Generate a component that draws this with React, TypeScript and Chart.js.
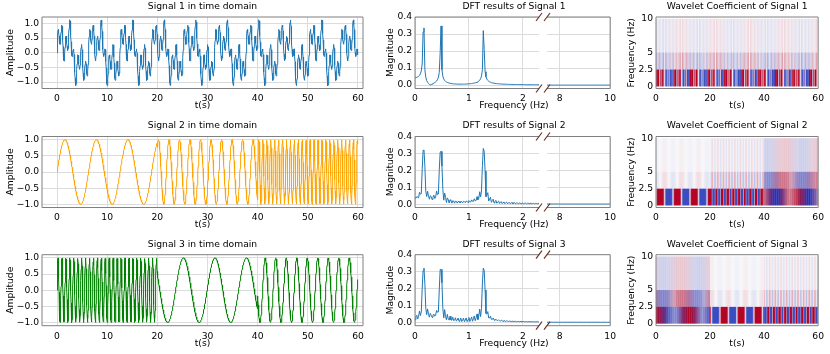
import React, { useEffect, useMemo, useRef } from "react";
import { Chart, registerables } from "chart.js";

Chart.register(...registerables);

// ---------------- data ----------------
const SAMPLE_RATE = 20; // Hz (wavelet frequency axis ends at 10 Hz = Nyquist)
const DURATION = 60; // s
// Signal 1: three superposed tones, spectral peaks at 0.16, 0.48 and 1.27 Hz
const SIGNAL1_OMEGA = [1, 3, 8]; // rad/s
const SIGNAL1_AMP = [0.51, 0.43, 0.42];
// Signals 2 and 3: one tone per 20 s segment
const SEGMENT_LENGTH = 20; // s
const SIGNAL2_OMEGA = [1, 3, 8];
const SIGNAL2_PHASE = [0, 3.7, 0];
const SIGNAL3_OMEGA = [8, 1, 3];
const SIGNAL3_PHASE = [0, 1.5, 2.7];

const SIGNAL_COLORS = ["#1f77b4", "#ffa500", "#008000"];
const DFT_COLOR = "#1f77b4";

const TIME_TITLES = ["Signal 1 in time domain", "Signal 2 in time domain", "Signal 3 in time domain"];
const DFT_TITLES = ["DFT results of Signal 1", "DFT results of Signal 2", "DFT results of Signal 3"];
const WAVELET_TITLES = ["Wavelet Coefficient of Signal 1", "Wavelet Coefficient of Signal 2", "Wavelet Coefficient of Signal 3"];

const TIME_X_RANGE = [-3, 61];
const TIME_X_TICKS = [0, 10, 20, 30, 40, 50, 60];
const TIME_Y_TICKS = [-1, -0.5, 0, 0.5, 1];
const TIME_Y_LABELS = ["\u22121.0", "\u22120.5", "0.0", "0.5", "1.0"];
const TIME_Y_LIMITS = [1.22, 1.1, 1.1];

const DFT_Y_RANGE = [-0.02, 0.4];
const DFT_Y_TICKS = [0, 0.1, 0.2, 0.3, 0.4];
const DFT_Y_LABELS = ["0.0", "0.1", "0.2", "0.3", "0.4"];
const DFT_LEFT_RANGE = [0, 2.3];
const DFT_RIGHT_RANGE = [7.5, 10];
const DFT_LEFT_TICKS = [0, 1, 2];
const DFT_RIGHT_TICKS = [8, 10];

const WAVELET_X_TICKS = [0, 20, 40, 60];
const WAVELET_Y_RANGE = [-0.3, 10.25];
const WAVELET_Y_TICKS = [0, 2.5, 5, 10];
const WAVELET_Y_LABELS = ["0", "2.5", "5", "10"];
const WAVELET_BANDS = [0, 2.5, 5, 10]; // Hz: approximation, detail 2, detail 1
const WAVELET_VMAX = 0.9;
const CMAP_NEG = [59, 76, 192];
const CMAP_MID = [248, 248, 250];
const CMAP_POS = [180, 4, 38];

// ---------------- styling ----------------
const FONT_FAMILY = "'DejaVu Sans', 'Liberation Sans', sans-serif";
const FONT_SIZE = 9.2;
const LH = FONT_SIZE * 1.2;
const TEXT_COLOR = "#000000";
const GRID_COLOR = "#dcdcdc";
const SPINE_COLOR = "#808080";
const BREAK_COLOR = "#6e3326";

const ROWS = [
  { T: 17, B: 88.5 },
  { T: 136.5, B: 207.5 },
  { T: 254.7, B: 325.7 },
];
const COL1 = { L: 42, R: 363, ylabelX: 10.7 };
const COL2 = { L: 415, LR: 539, RL: 547, R: 613, ylabelX: 390.7 };
const COL3 = { L: 656, R: 821, ylabelX: 631.7 };
const TITLE_OFFSET = 10.5; // title centre above plot top
const XLABEL_OFFSET = 17.5; // x-label centre below plot bottom

const fnt = (size: number) => ({ family: FONT_FAMILY, size, weight: "normal" as const, lineHeight: 1.2 });

// ---------------- computations ----------------
function synthesize() {
  const n = Math.round(SAMPLE_RATE * DURATION);
  const t: number[] = [];
  const s1: number[] = [];
  const s2: number[] = [];
  const s3: number[] = [];
  for (let i = 0; i < n; i++) {
    const ti = i / SAMPLE_RATE;
    t.push(ti);
    let v = 0;
    for (let k = 0; k < SIGNAL1_OMEGA.length; k++) v += SIGNAL1_AMP[k] * Math.sin(SIGNAL1_OMEGA[k] * ti);
    s1.push(v);
    const seg = Math.min(SIGNAL2_OMEGA.length - 1, Math.floor(ti / SEGMENT_LENGTH));
    s2.push(Math.sin(SIGNAL2_OMEGA[seg] * ti + SIGNAL2_PHASE[seg]));
    s3.push(Math.sin(SIGNAL3_OMEGA[seg] * ti + SIGNAL3_PHASE[seg]));
  }
  return { t, signals: [s1, s2, s3] };
}

function spectrum(x: number[]) {
  const n = x.length;
  const cosT = new Float64Array(n);
  const sinT = new Float64Array(n);
  for (let i = 0; i < n; i++) {
    cosT[i] = Math.cos((2 * Math.PI * i) / n);
    sinT[i] = Math.sin((2 * Math.PI * i) / n);
  }
  const out: { x: number; y: number }[] = [];
  for (let k = 0; k <= n / 2; k++) {
    let re = 0;
    let im = 0;
    let idx = 0;
    for (let i = 0; i < n; i++) {
      re += x[i] * cosT[idx];
      im -= x[i] * sinT[idx];
      idx += k;
      if (idx >= n) idx -= n;
    }
    out.push({ x: (k * SAMPLE_RATE) / n, y: (2 * Math.hypot(re, im)) / n });
  }
  return out;
}

function haarStep(x: number[]) {
  const a: number[] = [];
  const d: number[] = [];
  for (let i = 0; i + 1 < x.length; i += 2) {
    a.push((x[i] + x[i + 1]) / Math.SQRT2);
    d.push((x[i] - x[i + 1]) / Math.SQRT2);
  }
  return [a, d];
}

function colormap(v: number) {
  const t = Math.max(-1, Math.min(1, v));
  const end = t >= 0 ? CMAP_POS : CMAP_NEG;
  const a = Math.abs(t);
  return CMAP_MID.map((m, i) => m + (end[i] - m) * a);
}

type Grid = { w: number; h: number; rgb: Float64Array };

// coefficient grid: columns of 0.1 s, rows of 0.1 Hz (row 0 = top, 10 Hz)
function waveletGrid(x: number[]): Grid {
  const [a1, d1] = haarStep(x);
  const [a2, d2] = haarStep(a1);
  const w = d1.length;
  const h = 100;
  const fmax = WAVELET_BANDS[3];
  const rgb = new Float64Array(w * h * 3);
  for (let r = 0; r < h; r++) {
    const f = fmax * (1 - (r + 0.5) / h);
    for (let c = 0; c < w; c++) {
      const v = f < WAVELET_BANDS[1] ? a2[c >> 1] : f < WAVELET_BANDS[2] ? d2[c >> 1] : d1[c];
      const col = colormap(v / WAVELET_VMAX);
      const p = (r * w + c) * 3;
      rgb[p] = col[0];
      rgb[p + 1] = col[1];
      rgb[p + 2] = col[2];
    }
  }
  return { w, h, rgb };
}

// area weights of source cells (n cells spanning [a, b] px) for output pixels starting at p0
function weights(n: number, a: number, b: number, p0: number, count: number) {
  const s = (b - a) / n;
  const out: { i: number; w: number }[][] = [];
  for (let p = 0; p < count; p++) {
    const lo = p0 + p;
    const hi = lo + 1;
    const list: { i: number; w: number }[] = [];
    const iStart = Math.max(0, Math.floor((lo - a) / s));
    const iEnd = Math.min(n - 1, Math.floor((hi - a) / s));
    for (let i = iStart; i <= iEnd; i++) {
      const cl = a + i * s;
      const ch = cl + s;
      const ov = Math.min(hi, ch) - Math.max(lo, cl);
      if (ov > 0) list.push({ i, w: ov });
    }
    out.push(list);
  }
  return out;
}

// ---------------- plugins ----------------
function framePlugin(sides: string) {
  return {
    id: "frame",
    afterDatasetsDraw(chart: any) {
      const { left, right, top, bottom } = chart.chartArea;
      const ctx = chart.ctx;
      ctx.save();
      ctx.strokeStyle = SPINE_COLOR;
      ctx.lineWidth = 1;
      ctx.beginPath();
      if (sides.includes("l")) { ctx.moveTo(left, top); ctx.lineTo(left, bottom); }
      if (sides.includes("r")) { ctx.moveTo(right, top); ctx.lineTo(right, bottom); }
      if (sides.includes("t")) { ctx.moveTo(left, top); ctx.lineTo(right, top); }
      if (sides.includes("b")) { ctx.moveTo(left, bottom); ctx.lineTo(right, bottom); }
      ctx.stroke();
      ctx.restore();
    },
  };
}

function breakPlugin(side: "left" | "right") {
  return {
    id: "breaks",
    afterDraw(chart: any) {
      const a = chart.chartArea;
      const x = side === "right" ? a.right : a.left;
      const ctx = chart.ctx;
      ctx.save();
      ctx.strokeStyle = BREAK_COLOR;
      ctx.lineWidth = 1.2;
      ctx.beginPath();
      for (const y of [a.top, a.bottom]) {
        ctx.moveTo(x - 3, y + 4);
        ctx.lineTo(x + 3, y - 4);
      }
      ctx.stroke();
      ctx.restore();
    },
  };
}

// draws the coefficient grid into its data extent (0..60 s, 0..10 Hz), area-averaged per screen pixel
function heatPlugin(grid: Grid) {
  return {
    id: "heat",
    beforeDatasetsDraw(chart: any) {
      const xs = chart.scales.x;
      const ys = chart.scales.y;
      const x0 = xs.getPixelForValue(0);
      const x1 = xs.getPixelForValue(DURATION);
      const yTop = ys.getPixelForValue(WAVELET_BANDS[3]);
      const yBot = ys.getPixelForValue(WAVELET_BANDS[0]);
      const px0 = Math.floor(x0);
      const py0 = Math.floor(yTop);
      const W = Math.ceil(x1) - px0;
      const H = Math.ceil(yBot) - py0;
      const wx = weights(grid.w, x0, x1, px0, W);
      const wy = weights(grid.h, yTop, yBot, py0, H);
      const ctx = chart.ctx;
      const img = ctx.createImageData(W, H);
      for (let j = 0; j < H; j++) {
        for (let i = 0; i < W; i++) {
          let r = 0, g = 0, b = 0, cov = 0;
          for (const cy of wy[j]) {
            for (const cx of wx[i]) {
              const w = cy.w * cx.w;
              const p = (cy.i * grid.w + cx.i) * 3;
              r += grid.rgb[p] * w;
              g += grid.rgb[p + 1] * w;
              b += grid.rgb[p + 2] * w;
              cov += w;
            }
          }
          const rest = Math.max(0, 1 - cov) * 255;
          const q = (j * W + i) * 4;
          img.data[q] = Math.round(r + rest);
          img.data[q + 1] = Math.round(g + rest);
          img.data[q + 2] = Math.round(b + rest);
          img.data[q + 3] = 255;
        }
      }
      ctx.putImageData(img, px0, py0);
    },
  };
}

// ---------------- layout helpers ----------------
type Geom = { box: { left: number; top: number; width: number; height: number }; yW: number; xH: number; topH: number; padR: number };

function geom(L: number, T: number, R: number, B: number, axisW: number, padR: number): Geom {
  const left = Math.floor(L - axisW);
  const top = Math.floor(T - 17.5);
  const right = Math.ceil(R + padR);
  const bottom = Math.ceil(B + 25);
  return { box: { left, top, width: right - left, height: bottom - top }, yW: L - left, xH: bottom - B, topH: T - top, padR: right - R };
}

type ScaleSpec = {
  min: number;
  max: number;
  ticks: number[];
  labels?: string[];
  showLabels?: boolean;
  grid?: boolean;
  title?: string;
};

function scaleOpts(axis: "x" | "y", s: ScaleSpec, g: Geom, ylabelX: number) {
  const titleOpts = s.title
    ? axis === "x"
      ? { display: true, text: s.title, font: fnt(FONT_SIZE), color: TEXT_COLOR, padding: { top: 0, bottom: g.xH - XLABEL_OFFSET - LH / 2 } }
      : { display: true, text: s.title, font: fnt(FONT_SIZE), color: TEXT_COLOR, padding: { top: ylabelX - g.box.left - LH / 2, bottom: 0 } }
    : { display: false };
  return {
    type: "linear",
    min: s.min,
    max: s.max,
    afterBuildTicks: (sc: any) => {
      sc.ticks = s.ticks.map((v) => ({ value: v }));
    },
    afterFit: (sc: any) => {
      if (axis === "x") sc.height = g.xH;
      else sc.width = g.yW;
    },
    ticks: {
      display: s.showLabels !== false,
      callback: (_v: any, i: number) => (s.labels ? s.labels[i] : String(s.ticks[i])),
      font: fnt(FONT_SIZE),
      color: TEXT_COLOR,
      padding: axis === "x" ? 5 : 3,
      autoSkip: false,
      maxRotation: 0,
      minRotation: 0,
    },
    grid: { display: s.grid !== false, color: GRID_COLOR, lineWidth: 1, drawTicks: false },
    border: { display: false },
    title: titleOpts,
  };
}

function baseOptions(g: Geom, title: string | null, x: any, y: any) {
  return {
    animation: false,
    responsive: false,
    maintainAspectRatio: false,
    devicePixelRatio: 1,
    events: [],
    layout: { padding: { top: title ? 0 : g.topH, right: g.padR, left: 0, bottom: 0 } },
    plugins: {
      legend: { display: false },
      tooltip: { enabled: false },
      title: title
        ? {
            display: true,
            text: title,
            fullSize: false,
            font: fnt(FONT_SIZE),
            color: TEXT_COLOR,
            padding: { top: g.topH - TITLE_OFFSET - LH / 2, bottom: TITLE_OFFSET + LH / 2 - LH },
          }
        : { display: false },
    },
    scales: { x, y },
  };
}

type Panel = { box: Geom["box"]; config: () => any };

function buildPanels(): Panel[] {
  const { t, signals } = synthesize();
  const spectra = signals.map(spectrum);
  const grids = signals.map(waveletGrid);
  const panels: Panel[] = [];

  ROWS.forEach((row, r) => {
    // ---- time domain ----
    const g1 = geom(COL1.L, row.T, COL1.R, row.B, COL1.L, 8);
    const lim = TIME_Y_LIMITS[r];
    const series = signals[r].map((v, i) => ({ x: t[i], y: v }));
    panels.push({
      box: g1.box,
      config: () => ({
        type: "line",
        data: {
          datasets: [
            { data: series, parsing: false, borderColor: SIGNAL_COLORS[r], borderWidth: 1, pointRadius: 0, tension: 0, fill: false },
          ],
        },
        options: baseOptions(
          g1,
          TIME_TITLES[r],
          scaleOpts("x", { min: TIME_X_RANGE[0], max: TIME_X_RANGE[1], ticks: TIME_X_TICKS, title: "t(s)" }, g1, COL1.ylabelX),
          scaleOpts("y", { min: -lim, max: lim, ticks: TIME_Y_TICKS, labels: TIME_Y_LABELS, title: "Amplitude" }, g1, COL1.ylabelX)
        ),
        plugins: [framePlugin("lrtb")],
      }),
    });

    // ---- DFT: container for title and axis labels ----
    const gc = geom(COL2.L, row.T, COL2.R, row.B, COL2.L - 383, 8);
    panels.push({
      box: gc.box,
      config: () => ({
        type: "line",
        data: { datasets: [] },
        options: baseOptions(
          gc,
          DFT_TITLES[r],
          scaleOpts("x", { min: 0, max: 1, ticks: [], showLabels: false, grid: false, title: "Frequency (Hz)" }, gc, COL2.ylabelX),
          scaleOpts("y", { min: 0, max: 1, ticks: [], showLabels: false, grid: false, title: "Magnitude" }, gc, COL2.ylabelX)
        ),
      }),
    });

    // ---- DFT left part ----
    const gl = geom(COL2.L, row.T, COL2.LR, row.B, COL2.L - 383, 5);
    const leftData = spectra[r].filter((p) => p.x <= DFT_LEFT_RANGE[1] + 0.1);
    panels.push({
      box: gl.box,
      config: () => ({
        type: "line",
        data: { datasets: [{ data: leftData, parsing: false, borderColor: DFT_COLOR, borderWidth: 1, pointRadius: 0, tension: 0 }] },
        options: baseOptions(
          gl,
          null,
          scaleOpts("x", { min: DFT_LEFT_RANGE[0], max: DFT_LEFT_RANGE[1], ticks: DFT_LEFT_TICKS }, gl, 0),
          scaleOpts("y", { min: DFT_Y_RANGE[0], max: DFT_Y_RANGE[1], ticks: DFT_Y_TICKS, labels: DFT_Y_LABELS }, gl, 0)
        ),
        plugins: [framePlugin("ltb"), breakPlugin("right")],
      }),
    });

    // ---- DFT right part ----
    const gr = geom(COL2.RL, row.T, COL2.R, row.B, 6, 8);
    const rightData = spectra[r].filter((p) => p.x >= DFT_RIGHT_RANGE[0] - 0.1);
    panels.push({
      box: gr.box,
      config: () => ({
        type: "line",
        data: { datasets: [{ data: rightData, parsing: false, borderColor: DFT_COLOR, borderWidth: 1, pointRadius: 0, tension: 0 }] },
        options: baseOptions(
          gr,
          null,
          scaleOpts("x", { min: DFT_RIGHT_RANGE[0], max: DFT_RIGHT_RANGE[1], ticks: DFT_RIGHT_TICKS }, gr, 0),
          scaleOpts("y", { min: DFT_Y_RANGE[0], max: DFT_Y_RANGE[1], ticks: DFT_Y_TICKS, showLabels: false }, gr, 0)
        ),
        plugins: [framePlugin("rtb"), breakPlugin("left")],
      }),
    });

    // ---- wavelet ----
    const g3 = geom(COL3.L, row.T, COL3.R, row.B, COL3.L - 622, 8);
    panels.push({
      box: g3.box,
      config: () => ({
        type: "line",
        data: { datasets: [] },
        options: baseOptions(
          g3,
          WAVELET_TITLES[r],
          scaleOpts("x", { min: 0, max: DURATION, ticks: WAVELET_X_TICKS, grid: false, title: "t(s)" }, g3, COL3.ylabelX),
          scaleOpts("y", { min: WAVELET_Y_RANGE[0], max: WAVELET_Y_RANGE[1], ticks: WAVELET_Y_TICKS, labels: WAVELET_Y_LABELS, grid: false, title: "Frequency (Hz)" }, g3, COL3.ylabelX)
        ),
        plugins: [heatPlugin(grids[r]), framePlugin("lrtb")],
      }),
    });
  });
  return panels;
}

export default function App() {
  const panels = useMemo(() => buildPanels(), []);
  const refs = useRef<(HTMLCanvasElement | null)[]>([]);

  useEffect(() => {
    const charts = panels.map((p, i) => new Chart(refs.current[i] as HTMLCanvasElement, p.config()));
    return () => charts.forEach((c) => c.destroy());
  }, [panels]);

  return (
    <div style={{ position: "fixed", left: 0, top: 0, width: 830, height: 354, background: "#ffffff", overflow: "hidden" }}>
      {panels.map((p, i) => (
        <canvas
          key={i}
          ref={(el) => {
            refs.current[i] = el;
          }}
          width={p.box.width}
          height={p.box.height}
          style={{ position: "absolute", left: p.box.left, top: p.box.top, width: p.box.width, height: p.box.height }}
        />
      ))}
    </div>
  );
}
